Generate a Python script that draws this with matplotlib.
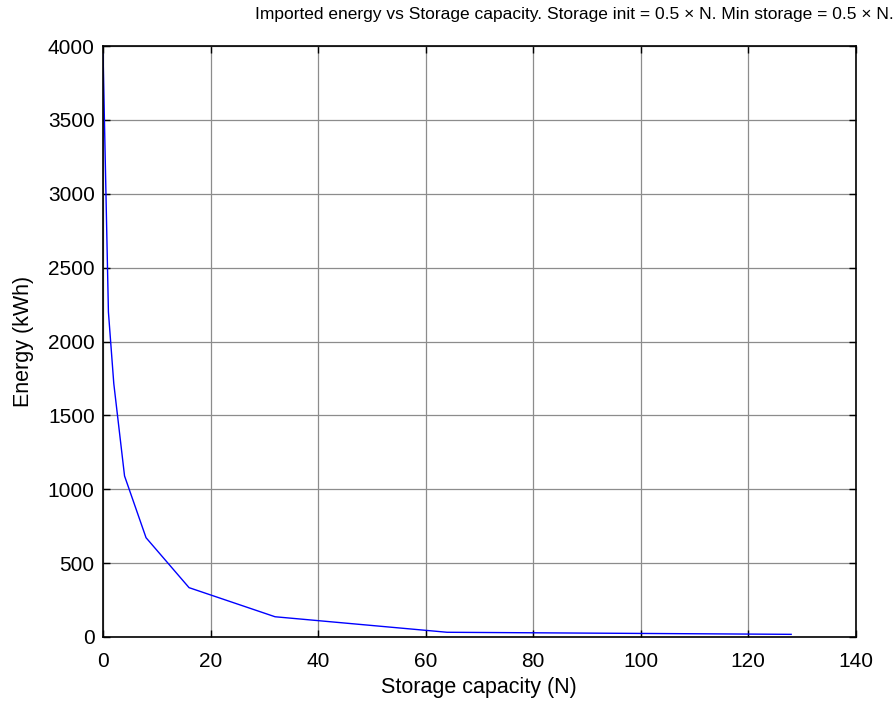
import matplotlib
matplotlib.use("Agg")
import matplotlib.pyplot as plt

# storage capacity (N) and imported energy (kWh)
capacity = [0, 1, 2, 4, 8, 16, 32, 64, 128]
energy = [3950, 2200, 1715, 1090, 672, 334, 137, 32, 18]

x_ticks = [0, 20, 40, 60, 80, 100, 120, 140]
y_ticks = [0, 500, 1000, 1500, 2000, 2500, 3000, 3500, 4000]

plt.rcParams["font.family"] = ["Liberation Sans", "DejaVu Sans"]

fig = plt.figure(figsize=(8.96, 7.01), dpi=100)
ax = fig.add_axes([0.115, 0.0913, 0.84, 0.843])

ax.plot(capacity, energy, color="blue", lw=1.0)

ax.set_xlim(0, 140)
ax.set_ylim(0, 4000)
ax.set_xticks(x_ticks)
ax.set_yticks(y_ticks)
ax.grid(True, color="#8c8c8c", lw=0.9)
ax.set_axisbelow(True)
ax.tick_params(direction="in", length=5, width=1, top=True, right=True,
               labelsize=15)
ax.tick_params(axis="x", pad=11)
ax.tick_params(axis="y", pad=6)
for s in ax.spines.values():
    s.set_linewidth(1.2)

ax.set_xlabel("Storage capacity (N)", fontsize=15.5, labelpad=4)
ax.set_ylabel("Energy (kWh)", fontsize=15.5, labelpad=10)
fig.text(574 / 896, 1 - 14 / 701,
         "Imported energy vs Storage capacity. Storage init = 0.5 \u00d7 N. "
         "Min storage = 0.5 \u00d7 N.",
         ha="center", va="center", fontsize=12.5)

fig.savefig("out.png", dpi=100)
